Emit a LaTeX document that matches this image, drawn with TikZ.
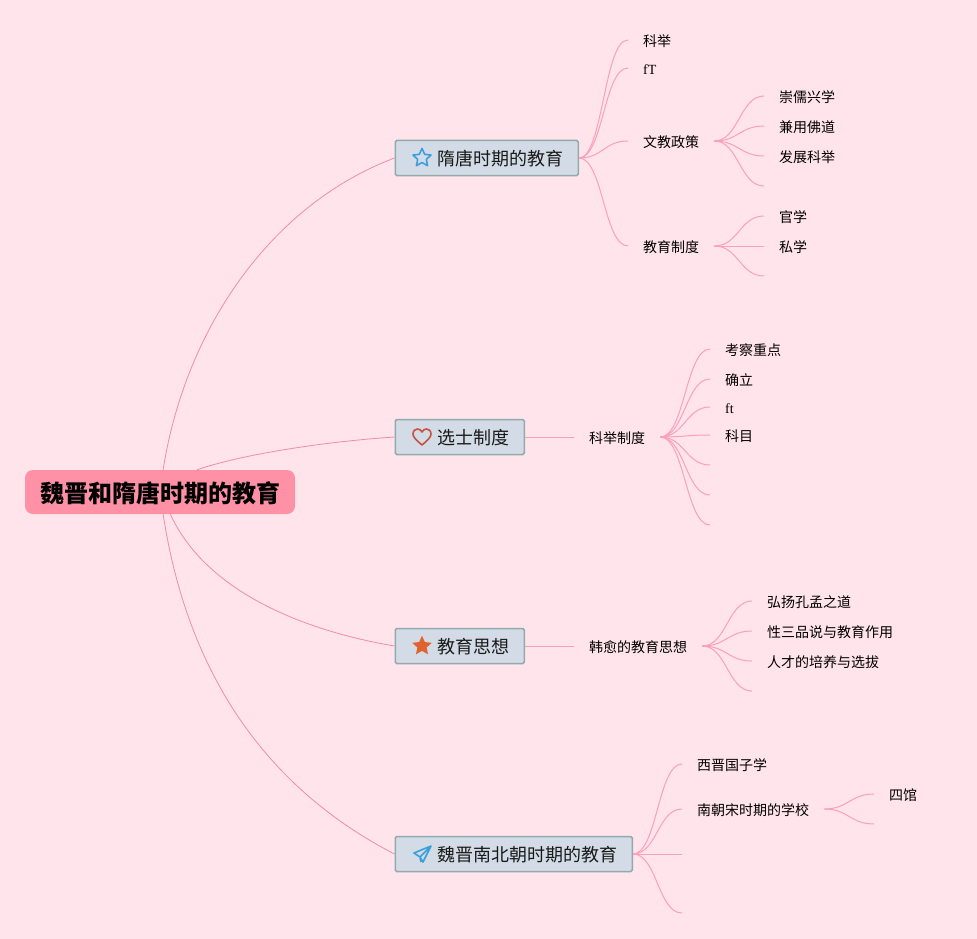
\documentclass[tikz,border=0pt]{standalone}
\usepackage{fontspec}
\setmainfont{Noto Sans CJK SC}
\newfontfamily\latinfont{Liberation Serif}
\usetikzlibrary{shapes.geometric}
\definecolor{canvasbg}{HTML}{FFE4EB}
\definecolor{rootfill}{HTML}{FF91A7}
\definecolor{topicfill}{HTML}{D3DCE6}
\definecolor{topicline}{HTML}{8FABAB}
\definecolor{mainlink}{HTML}{F08CA8}
\definecolor{sublink}{HTML}{F9A0BA}
\definecolor{iconblue}{HTML}{3A9FDC}
\definecolor{iconred}{HTML}{C9503F}
\definecolor{iconorange}{HTML}{E0622F}
\tikzset{
  rootbox/.style={fill=rootfill, rounded corners=8pt, minimum width=270pt, minimum height=44pt, inner sep=0pt, text height=22.5pt, text depth=1.5pt, font=\bfseries\fontsize{24}{24}\selectfont},
  topic/.style={draw=topicline, line width=1.5pt, fill=topicfill, rounded corners=1.5pt, anchor=west, minimum height=35pt, inner xsep=15pt, inner ysep=0pt, text height=17pt, text depth=1.6pt, text=black!90, font=\fontsize{18}{18}\selectfont},
  twig/.style={anchor=west, inner xsep=15pt, inner ysep=0pt, text height=13.5pt, text depth=0.5pt, text=black, font=\fontsize{14}{14}\selectfont},
  limb/.style={out=0, in=180, out distance=24pt, in distance=24pt},
  link/.style={draw=sublink, line width=1pt},
  icon/.style={line width=1.6pt, line join=round}
}
\begin{document}
\begin{tikzpicture}[x=1pt, y=-1pt]
    \fill[canvasbg] (0,0) rectangle (977,939);
    \useasboundingbox (0,0) rectangle (977,939);

    % Root and the four topics
    \node[rootbox] (Root) at (160,492) {魏晋和隋唐时期的教育};
    \node[topic] (Sui) at (394.5,158) {\hspace*{27pt}隋唐时期的教育};
    \node[topic] (Xuan) at (394.5,437) {\hspace*{27pt}选士制度};
    \node[topic] (Edu) at (394.5,646) {\hspace*{27pt}教育思想};
    \node[topic] (Wei) at (394.5,854) {\hspace*{27pt}魏晋南北朝时期的教育};

    % Topic icons
    \node[star, star points=5, star point ratio=2.1, draw=iconblue, icon, minimum size=19pt, inner sep=0pt] (StarA) at (422,158) {};
    \node[star, star points=5, star point ratio=2.1, fill=iconorange, minimum size=20.5pt, inner sep=0pt] (StarB) at (422,646) {};
    \draw[icon, draw=iconred, shift={(422,437)}] (0,8) .. controls (-6,3) and (-9,0) .. (-9,-3) .. controls (-9,-6.5) and (-6.5,-8) .. (-4.5,-8) .. controls (-2.5,-8) and (-1,-7) .. (0,-5) .. controls (1,-7) and (2.5,-8) .. (4.5,-8) .. controls (6.5,-8) and (9,-6.5) .. (9,-3) .. controls (9,0) and (6,3) .. (0,8) -- cycle;
    \draw[icon, draw=iconblue, shift={(422,855)}] (9,-9) -- (-8,-2) -- (-2,2) -- (1,7) -- cycle (9,-9) -- (-2,2) -- (-1,7);

    % Root to topics
    \draw[mainlink, line width=0.8pt] (Root.82) .. controls (185,330) and (270,205) .. (Sui.west);
    \draw[mainlink, line width=0.8pt] (Root.31) .. controls (240,455) and (320,442) .. (Xuan.west);
    \draw[mainlink, line width=0.8pt] (Root.-65) .. controls (205,590) and (300,630) .. (Edu.west);
    \draw[mainlink, line width=0.8pt] (Root.-82) .. controls (190,690) and (280,795) .. (Wei.west);

    % Sui and Tang
    \node[twig] (Keju) at (628,40) {科举};
    \node[twig] (Ft) at (628,68) {\latinfont fT};
    \node[twig] (Wenjiao) at (628,141) {文教政策};
    \node[twig] (Zhidu) at (628,246) {教育制度};
    \draw[link] (Sui.east) to[limb] (Keju.west);
    \draw[link] (Sui.east) to[limb] (Ft.west);
    \draw[link] (Sui.east) to[limb] (Wenjiao.west);
    \draw[link] (Sui.east) to[limb] (Zhidu.west);

    \node[twig] (Chong) at (764,96) {崇儒兴学};
    \node[twig] (Jian) at (764,126) {兼用佛道};
    \node[twig] (Fa) at (764,156) {发展科举};
    \coordinate (WenEnd) at (764,186);
    \foreach \leaf in {Chong.west, Jian.west, Fa.west, WenEnd}
        \draw[link] (Wenjiao.east) to[limb] (\leaf);

    \node[twig] (Guan) at (764,216) {官学};
    \node[twig] (Si) at (764,246) {私学};
    \coordinate (ZhiEnd) at (764,276);
    \foreach \leaf in {Guan.west, Si.west, ZhiEnd}
        \draw[link] (Zhidu.east) to[limb] (\leaf);

    % Selection system
    \node[twig] (Kjzd) at (574,437) {科举制度};
    \draw[link] (Xuan.east) -- (Kjzd.west);
    \node[twig] (Kao) at (710,349) {考察重点};
    \node[twig] (Que) at (710,379) {确立};
    \node[twig] (Fta) at (710,407) {\latinfont ft};
    \node[twig] (Kemu) at (710,435) {科目};
    \coordinate (KjA) at (710,465);
    \coordinate (KjB) at (710,495);
    \coordinate (KjC) at (710,525);
    \foreach \leaf in {Kao.west, Que.west, Fta.west, Kemu.west, KjA, KjB, KjC}
        \draw[link] (Kjzd.east) to[limb] (\leaf);

    % Han Yu
    \node[twig] (Han) at (574,646) {韩愈的教育思想};
    \draw[link] (Edu.east) -- (Han.west);
    \node[twig] (Hong) at (752,601) {弘扬孔孟之道};
    \node[twig] (Xing) at (752,631) {性三品说与教育作用};
    \node[twig] (Ren) at (752,661) {人才的培养与选拔};
    \coordinate (HanEnd) at (752,691);
    \foreach \leaf in {Hong.west, Xing.west, Ren.west, HanEnd}
        \draw[link] (Han.east) to[limb] (\leaf);

    % Wei, Jin and the Southern and Northern dynasties
    \node[twig] (Xijin) at (682,764) {西晋国子学};
    \node[twig] (Nan) at (682,809) {南朝宋时期的学校};
    \coordinate (WeiA) at (682,854);
    \coordinate (WeiB) at (682,913);
    \foreach \leaf in {Xijin.west, Nan.west, WeiA, WeiB}
        \draw[link] (Wei.east) to[limb] (\leaf);
    \node[twig] (Siguan) at (874,794) {四馆};
    \coordinate (NanEnd) at (874,824);
    \foreach \leaf in {Siguan.west, NanEnd}
        \draw[link] (Nan.east) to[limb] (\leaf);
\end{tikzpicture}
\end{document}
